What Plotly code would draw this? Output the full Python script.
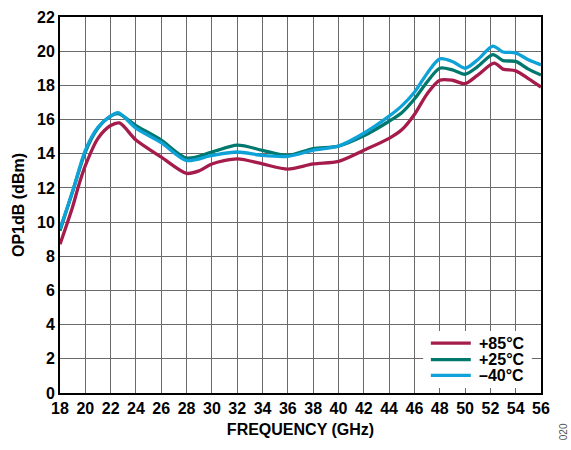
import plotly.graph_objects as go

# Frequency sample points (GHz) for each temperature curve
freq_85 = [18, 19, 19.5, 20, 21, 22, 22.7, 24, 26, 28, 29, 30, 32, 34, 36, 38, 40, 42, 44, 45, 46, 47, 48, 49, 50, 51, 52.3, 53, 54, 55, 56]
op1db_85 = [8.7, 10.9, 12.2, 13.3, 14.9, 15.65, 15.8, 14.8, 13.8, 12.85, 13.0, 13.4, 13.7, 13.4, 13.1, 13.4, 13.55, 14.2, 14.9, 15.4, 16.3, 17.5, 18.3, 18.3, 18.1, 18.6, 19.3, 18.95, 18.85, 18.4, 17.9]

freq_25 = [18, 19, 20, 21, 22, 22.6, 24, 26, 28, 30, 32, 34, 36, 38, 40, 42, 44, 45, 46, 47, 48, 49, 50, 51, 52.2, 53, 54, 55, 56]
op1db_25 = [9.5, 11.8, 14.1, 15.5, 16.2, 16.35, 15.65, 14.8, 13.75, 14.1, 14.5, 14.2, 13.9, 14.3, 14.45, 15.05, 15.9, 16.4, 17.2, 18.2, 19.0, 18.9, 18.65, 19.1, 19.8, 19.45, 19.4, 18.95, 18.6]

freq_m40 = [18, 19, 20, 21, 22, 22.6, 24, 26, 28, 30, 32, 34, 36, 38, 40, 42, 44, 45, 46, 47, 48, 49, 50, 51, 52.2, 53, 54, 55, 56]
op1db_m40 = [9.6, 11.8, 14.2, 15.55, 16.2, 16.4, 15.5, 14.65, 13.6, 13.9, 14.1, 13.9, 13.85, 14.2, 14.45, 15.2, 16.2, 16.8, 17.6, 18.7, 19.55, 19.4, 19.0, 19.5, 20.3, 19.95, 19.9, 19.5, 19.2]

series = [
    ("+85°C", freq_85, op1db_85, "#A51C4C"),
    ("+25°C", freq_25, op1db_25, "#00786E"),
    ("–40°C", freq_m40, op1db_m40, "#0EA2D8"),
]

x_ticks = list(range(18, 57, 2))
y_ticks = list(range(0, 23, 2))

FONT = "Liberation Sans, Arial, sans-serif"

fig = go.Figure()
for name, fx, fy, color in series:
    fig.add_trace(go.Scatter(
        x=fx, y=fy, name=name, mode="lines", showlegend=False,
        line=dict(color=color, width=3.3, shape="spline", smoothing=0.8),
    ))

axis_common = dict(
    showgrid=True, gridcolor="#6a6a6a", gridwidth=1.2,
    showline=True, linecolor="black", linewidth=2, mirror=True,
    zeroline=False, ticks="",
    tickfont=dict(family=FONT, size=16, color="black", weight="bold"),
)

fig.update_xaxes(
    range=[18, 56], tickvals=x_ticks, ticktext=[str(v) for v in x_ticks],
    title=dict(text="<b>FREQUENCY (GHz)</b>", font=dict(family=FONT, size=16, color="black"), standoff=8),
    **axis_common,
)
fig.update_yaxes(
    range=[0, 22], tickvals=y_ticks, ticktext=[str(v) for v in y_ticks],
    title=dict(text="<b>OP1dB (dBm)</b>", font=dict(family=FONT, size=16, color="black"), standoff=8),
    **axis_common,
)

fig.update_layout(
    width=571, height=450,
    margin=dict(l=60, r=30, t=9, b=57),
    plot_bgcolor="white", paper_bgcolor="white",
    font=dict(family=FONT, size=16, color="black", weight="bold"),
    showlegend=False,
)

# Legend box: white panel over the grid, with a short line sample and label per series
fig.add_shape(type="rect", xref="paper", yref="paper",
              x0=0.755, x1=0.981, y0=0.013, y1=0.165,
              fillcolor="white", line=dict(width=0), layer="above")
legend_rows = [0.1328, 0.0885, 0.0469]
for (name, _, _, color), ry in zip(series, legend_rows):
    fig.add_shape(type="line", xref="paper", yref="paper",
                  x0=0.771, x1=0.854, y0=ry, y1=ry,
                  line=dict(color=color, width=3.3), layer="above")
    fig.add_annotation(text=f"<b>{name}</b>", xref="paper", yref="paper",
                       x=0.866, y=ry, xanchor="left", yanchor="middle",
                       showarrow=False,
                       font=dict(family=FONT, size=16, color="black"))

# Small rotated figure number at the lower right corner
fig.add_annotation(
    text="020", xref="paper", yref="paper", x=1.046, y=-0.104,
    xanchor="center", yanchor="middle",
    showarrow=False, textangle=-90,
    font=dict(family=FONT, size=10, color="#555555", weight="normal"),
)

fig.write_html("out.html")
